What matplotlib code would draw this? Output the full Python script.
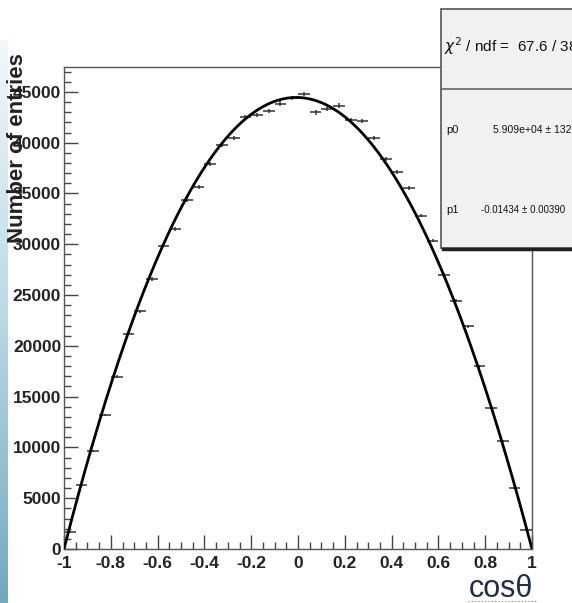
import numpy as np
import matplotlib
matplotlib.use('Agg')
import matplotlib.pyplot as plt
from matplotlib.patches import Rectangle
from matplotlib.lines import Line2D
from matplotlib.ticker import MultipleLocator

# bin centres of the cos(theta) histogram (40 bins of width 0.05)
bin_centers = np.arange(-0.975, 1.0, 0.05)
bin_half_width = 0.025

# entries per bin
entries = [1700, 6260, 9670, 13160, 16960, 21170, 23400, 26580, 29860, 31500,
           34390, 35640, 37930, 39800, 40470, 42490, 42760, 43080, 43850, 44400,
           44820, 42980, 43350, 43650, 42260, 42170, 40470, 38400, 37080, 35540,
           32820, 30350, 27010, 24450, 21930, 17980, 13880, 10670, 6010, 1900]

# fit results shown in the stats box
chi2_text = "67.6 / 38"
p0_text = "5.909e+04 \u00b1 132"
p1_text = "-0.01434 \u00b1 0.00390"
p1 = -0.01434
curve_peak = 44450  # height of the fitted curve at cos(theta)=0

xticks = [-1, -0.8, -0.6, -0.4, -0.2, 0, 0.2, 0.4, 0.6, 0.8, 1]
xticklabels = ['-1', '-0.8', '-0.6', '-0.4', '-0.2', '0', '0.2', '0.4', '0.6', '0.8', '1']
yticks = [0, 5000, 10000, 15000, 20000, 25000, 30000, 35000, 40000, 45000]

sans = ['Liberation Sans', 'DejaVu Sans']

W, H = 572, 603
fig = plt.figure(figsize=(W / 100, H / 100), dpi=100)
fig.patch.set_facecolor('white')

# light blue slide strip on the left edge
strip = fig.add_axes([0, 0, 8 / W, (H - 40) / H])
grad = np.linspace(0, 1, 256).reshape(-1, 1)
strip.imshow(grad, aspect='auto', cmap=matplotlib.colors.LinearSegmentedColormap.from_list(
    'slide', ['#72a9bf', '#b9d8e4', '#f2f8fb']), origin='lower')
strip.axis('off')

ax = fig.add_axes([64 / W, (H - 549) / H, 468 / W, 482 / H])
entries = np.array(entries)
ax.errorbar(bin_centers, entries, xerr=bin_half_width, yerr=np.sqrt(entries),
            fmt='none', ecolor='#333333', elinewidth=1.1, capsize=0, zorder=2)

xs = np.linspace(-1, 1, 400)
ax.plot(xs, curve_peak * (1 - xs ** 2) * (1 + p1 * xs), color='black', lw=2.0, zorder=3)

ax.set_xlim(-1, 1)
ax.set_ylim(0, 47450)
ax.set_xticks(xticks)
ax.set_xticklabels(xticklabels)
ax.set_yticks(yticks)
ax.set_yticklabels([str(v) for v in yticks])
ax.xaxis.set_minor_locator(MultipleLocator(0.05))
ax.yaxis.set_minor_locator(MultipleLocator(1000))
ax.tick_params(which='both', direction='in', top=False, right=False, color='#444444', width=1.0)
ax.tick_params(which='major', length=10)
ax.tick_params(which='minor', length=5)
ax.tick_params(axis='y', pad=2)
ax.tick_params(axis='x', pad=5)
for lab in ax.get_xticklabels() + ax.get_yticklabels():
    lab.set_family(sans)
    lab.set_fontweight('bold')
    lab.set_fontsize(12.5)
    lab.set_color('#222222')
for sp in ax.spines.values():
    sp.set_color('#555555')
    sp.set_linewidth(1.0)

fig.text(18 / W, 1 - 148 / H, 'Number of entries', rotation=90, ha='center', va='center',
         fontsize=16, fontweight='bold', family=sans, color='#222222')

fig.text(501 / W, 1 - 589 / H, 'cos\u03b8', ha='center', va='center', fontsize=22,
         family=sans, color='#1f2d4d')
fig.lines.append(Line2D([468 / W, 536 / W], [1 - 601 / H, 1 - 601 / H], transform=fig.transFigure,
                        color='#e06060', lw=0.8, ls=(0, (1, 2))))

# stats box
bx0, by_top, by_bot, by_mid = 441, 9, 248, 89
fig.patches.append(Rectangle((bx0 / W, 1 - by_bot / H), (W + 20 - bx0) / W, (by_bot - by_top) / H,
                             transform=fig.transFigure, facecolor='#f1f1f1', edgecolor='#555555',
                             lw=1.2, zorder=5))
fig.lines.append(Line2D([bx0 / W, 1.02], [1 - by_mid / H] * 2, transform=fig.transFigure,
                        color='#666666', lw=1.2, zorder=6))
fig.lines.append(Line2D([(bx0 + 2) / W, 1.02], [1 - (by_bot + 1.5) / H] * 2, transform=fig.transFigure,
                        color='#222222', lw=2.5, zorder=6))
fig.text(444 / W, 1 - 46 / H, r'$\chi^{2}$ / ndf =  ' + chi2_text, ha='left', va='center',
         fontsize=11, family=sans, color='#111111', zorder=7)
fig.text(446 / W, 1 - 130 / H, 'p0', ha='left', va='center', fontsize=8, family=sans,
         color='#111111', zorder=7)
fig.text(493 / W, 1 - 130 / H, p0_text, ha='left', va='center', fontsize=7.5, family=sans,
         color='#111111', zorder=7)
fig.text(446 / W, 1 - 210 / H, 'p1', ha='left', va='center', fontsize=8, family=sans,
         color='#111111', zorder=7)
fig.text(481 / W, 1 - 210 / H, p1_text, ha='left', va='center', fontsize=7, family=sans,
         color='#111111', zorder=7)

fig.savefig('out.png', dpi=100)
